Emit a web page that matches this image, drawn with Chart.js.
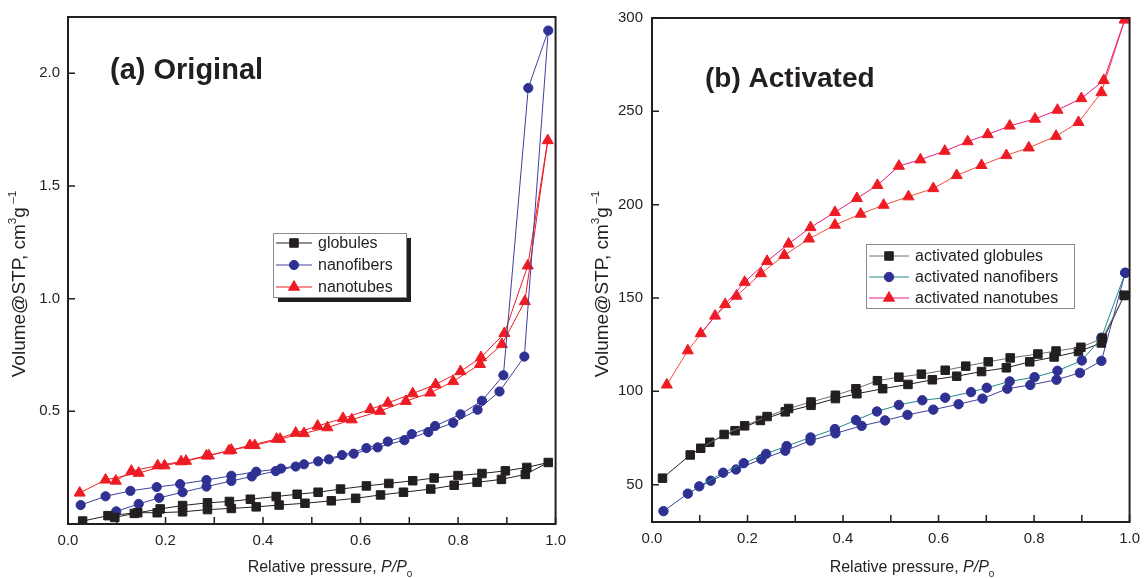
<!DOCTYPE html>
<html>
<head>
<meta charset="utf-8">
<script src="https://cdn.jsdelivr.net/npm/chart.js@4.4.0/dist/chart.umd.min.js"></script>
<style>
body { margin: 0; background: #fff; }
#wrap { position: relative; width: 1148px; height: 578px; }
canvas { position: absolute; top: 0; }
#chartA { left: 0; }
#chartB { left: 574px; }
</style>
</head>
<body>
<div id="wrap">
<canvas id="chartA" width="574" height="578"></canvas>
<canvas id="chartB" width="574" height="578"></canvas>
</div>
<script>
// axis ticks
var xTicks = [0, 0.1, 0.2, 0.3, 0.4, 0.5, 0.6, 0.7, 0.8, 0.9, 1.0];
var yTicksA = [0.5, 1.0, 1.5, 2.0];
var yTicksB = [50, 100, 150, 200, 250, 300];

var namesA = ['globules', 'nanofibers', 'nanotubes'];
var namesB = ['activated globules', 'activated nanofibers', 'activated nanotubes'];

// (a) original - adsorption then desorption branch
var globAdsP = [0.030, 0.082, 0.143, 0.183, 0.235, 0.286, 0.335, 0.386, 0.433, 0.486, 0.540, 0.590, 0.641, 0.688, 0.744, 0.792, 0.839, 0.889, 0.938, 0.985];
var globAdsV = [0.013, 0.037, 0.050, 0.050, 0.054, 0.064, 0.069, 0.076, 0.084, 0.092, 0.103, 0.114, 0.129, 0.141, 0.155, 0.172, 0.185, 0.198, 0.220, 0.273];
var globDesP = [0.941, 0.897, 0.849, 0.800, 0.751, 0.707, 0.658, 0.612, 0.559, 0.513, 0.470, 0.427, 0.374, 0.331, 0.286, 0.235, 0.189, 0.136, 0.096];
var globDesV = [0.251, 0.236, 0.224, 0.215, 0.204, 0.192, 0.180, 0.169, 0.155, 0.141, 0.132, 0.122, 0.110, 0.100, 0.094, 0.082, 0.067, 0.047, 0.029];

var fibAdsP = [0.026, 0.077, 0.128, 0.182, 0.230, 0.284, 0.335, 0.386, 0.437, 0.484, 0.535, 0.586, 0.635, 0.690, 0.739, 0.790, 0.840, 0.885, 0.936, 0.985];
var fibAdsV = [0.084, 0.123, 0.147, 0.164, 0.177, 0.195, 0.214, 0.232, 0.246, 0.265, 0.287, 0.312, 0.340, 0.372, 0.408, 0.449, 0.507, 0.588, 0.743, 2.190];
var fibDesP = [0.944, 0.893, 0.849, 0.805, 0.753, 0.705, 0.656, 0.612, 0.562, 0.513, 0.467, 0.426, 0.377, 0.335, 0.284, 0.235, 0.187, 0.145, 0.099];
var fibDesV = [1.935, 0.660, 0.547, 0.487, 0.435, 0.399, 0.366, 0.337, 0.306, 0.278, 0.255, 0.235, 0.211, 0.191, 0.166, 0.141, 0.116, 0.089, 0.056];

var tubAdsP = [0.024, 0.077, 0.145, 0.198, 0.242, 0.289, 0.335, 0.383, 0.435, 0.484, 0.532, 0.582, 0.640, 0.693, 0.743, 0.790, 0.845, 0.890, 0.937, 0.984];
var tubAdsV = [0.138, 0.196, 0.226, 0.259, 0.279, 0.303, 0.328, 0.349, 0.377, 0.402, 0.428, 0.463, 0.501, 0.545, 0.582, 0.633, 0.709, 0.797, 0.988, 1.702];
var tubDesP = [0.943, 0.895, 0.847, 0.805, 0.754, 0.707, 0.656, 0.620, 0.564, 0.512, 0.467, 0.428, 0.373, 0.330, 0.284, 0.232, 0.184, 0.130, 0.098];
var tubDesV = [1.146, 0.846, 0.739, 0.677, 0.619, 0.579, 0.537, 0.509, 0.469, 0.435, 0.404, 0.377, 0.349, 0.325, 0.303, 0.277, 0.259, 0.235, 0.191];

// (b) activated
var aGlobAdsP = [0.022, 0.080, 0.121, 0.174, 0.227, 0.279, 0.333, 0.384, 0.429, 0.483, 0.536, 0.587, 0.638, 0.690, 0.742, 0.791, 0.842, 0.893, 0.941, 0.989];
var aGlobAdsV = [53.5, 65.9, 72.7, 78.9, 84.4, 89.0, 92.5, 96.1, 98.7, 101.4, 103.7, 106.2, 108.1, 110.6, 112.6, 115.8, 118.4, 121.3, 125.9, 151.4];
var aGlobDesP = [0.943, 0.898, 0.846, 0.808, 0.750, 0.704, 0.657, 0.614, 0.564, 0.517, 0.472, 0.427, 0.384, 0.333, 0.286, 0.241, 0.194, 0.151, 0.102];
var aGlobDesV = [128.4, 123.6, 121.6, 120.0, 117.9, 115.8, 113.5, 111.3, 109.2, 107.6, 105.7, 101.4, 97.9, 94.3, 90.8, 86.5, 81.5, 76.9, 69.5];

var aFibAdsP = [0.024, 0.075, 0.123, 0.176, 0.229, 0.279, 0.332, 0.384, 0.439, 0.488, 0.535, 0.589, 0.642, 0.692, 0.744, 0.792, 0.847, 0.896, 0.941, 0.991];
var aFibAdsV = [35.8, 45.2, 52.1, 58.1, 63.6, 68.2, 73.6, 77.5, 81.5, 84.4, 87.4, 90.2, 93.1, 96.1, 101.4, 103.4, 106.2, 109.9, 116.3, 163.5];
var aFibDesP = [0.941, 0.900, 0.849, 0.801, 0.749, 0.701, 0.668, 0.614, 0.566, 0.517, 0.471, 0.427, 0.383, 0.332, 0.282, 0.239, 0.192, 0.149, 0.099];
var aFibDesV = [128.7, 116.5, 111.0, 107.6, 105.3, 101.9, 99.6, 96.6, 95.2, 92.7, 89.2, 84.6, 79.8, 75.3, 70.7, 66.5, 61.5, 56.4, 49.1];

var aTubAdsP = [0.031, 0.075, 0.132, 0.177, 0.228, 0.277, 0.329, 0.383, 0.437, 0.485, 0.537, 0.589, 0.638, 0.690, 0.742, 0.789, 0.846, 0.893, 0.941, 0.990];
var aTubAdsV = [103.5, 121.8, 140.4, 151.1, 163.1, 172.9, 181.7, 189.1, 195.0, 199.8, 204.3, 208.7, 215.7, 221.1, 226.4, 230.5, 236.7, 244.1, 260.1, 299.1];
var aTubDesP = [0.946, 0.899, 0.849, 0.802, 0.749, 0.703, 0.661, 0.613, 0.562, 0.517, 0.472, 0.429, 0.383, 0.332, 0.286, 0.241, 0.194, 0.153, 0.102];
var aTubDesV = [266.6, 256.9, 250.7, 245.9, 242.2, 237.6, 233.8, 228.7, 224.1, 220.7, 210.4, 203.4, 195.9, 187.8, 179.0, 169.7, 158.5, 146.6, 131.0];

var ink = '#231f20';
var font = '"Liberation Sans", Arial, sans-serif';

function pts(p, v) {
	return p.map(function (x, i) { return { x: x, y: v[i] }; });
}

// line + marker dataset
function series(label, data, line, marker, style, r) {
	return {
		label: label,
		data: data,
		showLine: true,
		borderColor: line,
		borderWidth: 1,
		backgroundColor: marker,
		pointBackgroundColor: marker,
		pointBorderColor: marker,
		pointBorderWidth: 1,
		pointStyle: style,
		pointRadius: r,
		tension: 0
	};
}

function richText(ctx, segs, size, cx, cy, rotate) {
	ctx.save();
	ctx.translate(cx, cy);
	if (rotate) ctx.rotate(-Math.PI / 2);
	ctx.textBaseline = 'middle';
	ctx.textAlign = 'left';
	ctx.fillStyle = ink;
	var total = 0;
	segs.forEach(function (s) {
		var sz = (s.sup || s.sub) ? size * 0.62 : size;
		s.f = (s.it ? 'italic ' : '') + sz + 'px ' + font;
		ctx.font = s.f;
		s.w = ctx.measureText(s.t).width;
		total += s.w;
	});
	var x = -total / 2;
	segs.forEach(function (s) {
		ctx.font = s.f;
		var dy = s.sup ? -size * 0.38 : (s.sub ? size * 0.42 : 0);
		ctx.fillText(s.t, x, dy);
		x += s.w;
	});
	ctx.restore();
}

var deco = {
	id: 'deco',
	afterDraw: function (chart, args, o) {
		var ctx = chart.ctx, a = chart.chartArea;
		var sx = chart.scales.x, sy = chart.scales.y;
		ctx.save();
		// frame
		ctx.strokeStyle = ink;
		ctx.lineWidth = 2;
		ctx.strokeRect(a.left, a.top, a.right - a.left, a.bottom - a.top);
		// inward ticks
		ctx.lineWidth = 1.5;
		ctx.beginPath();
		sx.ticks.forEach(function (t) {
			var p = sx.getPixelForValue(t.value);
			ctx.moveTo(p, a.bottom);
			ctx.lineTo(p, a.bottom - 7);
		});
		sy.ticks.forEach(function (t) {
			var p = sy.getPixelForValue(t.value);
			ctx.moveTo(a.left, p);
			ctx.lineTo(a.left + 7, p);
		});
		ctx.stroke();

		// panel title
		ctx.fillStyle = ink;
		ctx.textBaseline = 'alphabetic';
		ctx.textAlign = 'left';
		ctx.font = 'bold ' + o.titleSize + 'px ' + font;
		ctx.fillText(o.title, o.titleX, o.titleY);

		// axis titles
		richText(ctx, [
			{ t: 'Relative pressure, ' }, { t: 'P/P', it: true }, { t: '0', sub: true }
		], 16, o.xTitle[0], o.xTitle[1], false);
		richText(ctx, [
			{ t: 'Volume@STP, cm' }, { t: '3', sup: true }, { t: 'g' }, { t: ' \u20131', sup: true }
		], 19, o.yTitle[0], o.yTitle[1], true);

		// legend
		var L = o.legend;
		if (L.shadow) {
			ctx.fillStyle = ink;
			ctx.fillRect(L.x + 5, L.y + 5, L.w, L.h);
		}
		ctx.fillStyle = '#fff';
		ctx.fillRect(L.x, L.y, L.w, L.h);
		ctx.strokeStyle = '#8a8a8a';
		ctx.lineWidth = 1;
		ctx.strokeRect(L.x + 0.5, L.y + 0.5, L.w, L.h);
		ctx.font = '16px ' + font;
		ctx.textBaseline = 'middle';
		L.items.forEach(function (it, i) {
			var ds = chart.data.datasets[it];
			var y = L.y + L.first + i * L.rowH;
			ctx.strokeStyle = ds.borderColor;
			ctx.lineWidth = 1;
			ctx.beginPath();
			ctx.moveTo(L.x + 3, y);
			ctx.lineTo(L.x + 3 + L.lineW, y);
			ctx.stroke();
			ctx.fillStyle = ds.pointBackgroundColor;
			ctx.strokeStyle = ds.pointBorderColor;
			Chart.helpers.drawPoint(ctx, { pointStyle: ds.pointStyle, radius: ds.pointRadius, rotation: 0, borderWidth: 1 }, L.x + 3 + L.lineW / 2, y);
			ctx.fillStyle = ink;
			ctx.fillText(ds.label, L.x + L.textX, y + 1);
		});
		ctx.restore();
	}
};

function xScale(h) {
	return {
		type: 'linear', min: 0, max: 1,
		grid: { display: false, drawTicks: false },
		border: { display: false },
		afterBuildTicks: function (ax) { ax.ticks = xTicks.map(function (v) { return { value: v }; }); },
		ticks: {
			autoSkip: false, maxRotation: 0, padding: 8, color: ink,
			font: { family: font, size: 15 },
			callback: function (v, i) { return i % 2 === 0 ? v.toFixed(1) : ''; }
		},
		afterFit: function (s) { s.height = h; }
	};
}

function yScale(min, max, ticks, w, pad, dec) {
	return {
		min: min, max: max,
		grid: { display: false, drawTicks: false },
		border: { display: false },
		afterBuildTicks: function (ax) { ax.ticks = ticks.map(function (v) { return { value: v }; }); },
		ticks: {
			padding: pad, color: ink,
			font: { family: font, size: 15 },
			callback: function (v) { return v.toFixed(dec); }
		},
		afterFit: function (s) { s.width = w; }
	};
}

var chartA = new Chart(document.getElementById('chartA'), {
	type: 'scatter',
	data: {
		datasets: [
			series(namesA[0], pts(globAdsP.concat(globDesP), globAdsV.concat(globDesV)), ink, ink, 'rect', 6),
			series(namesA[1], pts(fibAdsP.concat(fibDesP), fibAdsV.concat(fibDesV)), '#3f3f9f', '#2e3192', 'circle', 4.6),
			series(namesA[2], pts(tubAdsP.concat(tubDesP), tubAdsV.concat(tubDesV)), '#ed1c24', '#ed1c24', 'triangle', 6.4)
		]
	},
	options: {
		responsive: false,
		animation: false,
		layout: { padding: { top: 13, right: 15, left: 0, bottom: 0 } },
		plugins: {
			legend: { display: false },
			tooltip: { enabled: false },
			deco: {
				title: '(a) Original', titleSize: 29, titleX: 110, titleY: 79,
				xTitle: [330, 568], yTitle: [20, 284],
				legend: { x: 273, y: 233, w: 133, h: 64, first: 10, rowH: 22, lineW: 36, textX: 45, shadow: true, items: [0, 1, 2] }
			}
		},
		scales: { x: xScale(54), y: yScale(0, 2.25, yTicksA, 68, 8, 1) }
	},
	plugins: [deco]
});

// activated: desorption branch starts from the last adsorption point
function desFrom(adsP, adsV, desP, desV) {
	return pts([adsP[adsP.length - 1]].concat(desP), [adsV[adsV.length - 1]].concat(desV));
}

var chartB = new Chart(document.getElementById('chartB'), {
	type: 'scatter',
	data: {
		datasets: [
			series(namesB[0], desFrom(aGlobAdsP, aGlobAdsV, aGlobDesP, aGlobDesV), '#6d6e71', ink, 'rect', 6),
			series(namesB[1], desFrom(aFibAdsP, aFibAdsV, aFibDesP, aFibDesV), '#1f8a8a', '#2e3192', 'circle', 4.7),
			series(namesB[2], desFrom(aTubAdsP, aTubAdsV, aTubDesP, aTubDesV), '#e8187e', '#ed1c24', 'triangle', 6.4),
			series('ads 1', pts(aGlobAdsP, aGlobAdsV), ink, ink, 'rect', 6),
			series('ads 2', pts(aFibAdsP, aFibAdsV), '#3f3f9f', '#2e3192', 'circle', 4.7),
			series('ads 3', pts(aTubAdsP, aTubAdsV), '#f04e37', '#ed1c24', 'triangle', 6.4)
		]
	},
	options: {
		responsive: false,
		animation: false,
		layout: { padding: { top: 14, right: 13, left: 0, bottom: 0 } },
		plugins: {
			legend: { display: false },
			tooltip: { enabled: false },
			deco: {
				title: '(b) Activated', titleSize: 28, titleX: 131, titleY: 87,
				xTitle: [338, 568], yTitle: [29, 284],
				legend: { x: 292, y: 244, w: 208, h: 64, first: 12, rowH: 21, lineW: 40, textX: 49, shadow: false, items: [0, 1, 2] }
			}
		},
		scales: { x: xScale(56), y: yScale(30, 300, yTicksB, 78, 9, 0) }
	},
	plugins: [deco]
});
</script>
</body>
</html>
